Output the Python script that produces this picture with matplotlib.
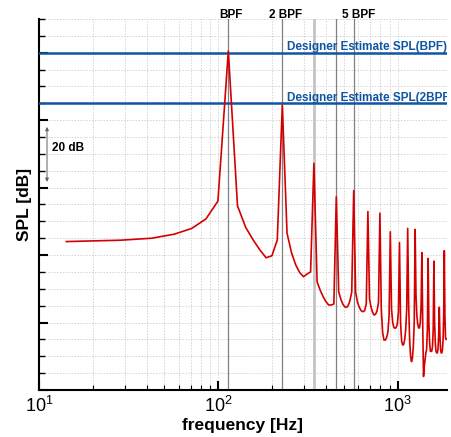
import numpy as np
import matplotlib
matplotlib.use("Agg")
import matplotlib.pyplot as plt
from matplotlib.ticker import MultipleLocator, LogLocator, NullFormatter

plt.rcParams['font.family'] = ['Liberation Sans', 'DejaVu Sans']
plt.rcParams['mathtext.fontset'] = 'custom'
plt.rcParams['mathtext.rm'] = 'Liberation Sans'
plt.rcParams['mathtext.it'] = 'Liberation Sans:italic'
plt.rcParams['mathtext.bf'] = 'Liberation Sans:bold'

# spectrum: bins at k * df, blade passing frequency = 8 bins
df_hz = 14.2
bpf = 8 * df_hz
bins = np.arange(1, 133)
spl = [44.0, 44.4, 45.0, 46.2, 47.9, 50.7, 56.0, 100.5,
       54.6, 48.2, 44.5, 41.5, 39.2, 39.8, 44.5, 84.5,
       46.5, 40.7, 37.1, 34.8, 33.6, 34.4, 35.0, 67.2,
       32.1, 29.6, 27.7, 26.2, 25.2, 25.2, 25.5, 57.3,
       29.1, 26.7, 25.2, 24.5, 24.7, 26.2, 29.0, 59.1,
       29.0, 26.0, 24.5, 23.5, 23.2, 23.5, 25.5, 52.9,
       27.0, 24.5, 23.0, 22.2, 22.5, 23.5, 26.0, 52.4,
       24.0, 17.0, 14.8, 14.8, 15.5, 17.0, 22.0, 46.9,
       24.0, 20.0, 18.5, 18.3, 18.5, 19.5, 23.0, 43.7,
       20.0, 14.5, 13.3, 13.5, 15.0, 18.0, 24.0, 47.9,
       25.0, 15.0, 10.0, 8.4, 9.5, 13.0, 20.0, 47.6,
       28.0, 22.0, 19.5, 18.4, 18.4, 20.0, 25.0, 40.7,
       20.0, 4.0, 7.0, 9.0, 11.0, 12.0, 18.0, 39.0,
       20.0, 14.0, 11.5, 11.4, 11.5, 13.0, 18.0, 38.2,
       20.0, 14.0, 11.5, 11.0, 11.0, 12.0, 16.0, 24.5,
       16.0, 12.0, 11.0, 11.0, 12.0, 15.0, 22.0, 41.3,
       22.0, 15.5, 15.0, 15.0]
freq = bins * df_hz

est_bpf = 100
est_2bpf = 85
harmonics = [1, 2, 3, 4, 5]
harm_labels = {1: "BPF", 2: "2 BPF", 5: "5 BPF"}

blue = "#0f55a3"
red = "#d40000"

fig = plt.figure(figsize=(4.51, 4.37), dpi=100)
ax = fig.add_axes([0.0865, 0.1076, 0.9045, 0.849])

ax.set_xscale('log')
ax.set_xlim(10, 1880)
ax.set_ylim(0, 110)

ax.yaxis.set_major_locator(MultipleLocator(20))
ax.yaxis.set_minor_locator(MultipleLocator(5))
ax.yaxis.set_major_formatter(NullFormatter())
ax.xaxis.set_major_locator(LogLocator(base=10))
ax.xaxis.set_minor_locator(LogLocator(base=10, subs=np.arange(2, 10)))
ax.xaxis.set_minor_formatter(NullFormatter())

ax.grid(True, which='both', color='#d4d4d4', linestyle=(0, (1.5, 1.5)), lw=0.7)
ax.set_axisbelow(True)

for s in ['top', 'right']:
    ax.spines[s].set_visible(False)
for s in ['left', 'bottom']:
    ax.spines[s].set_linewidth(1.5)

ax.tick_params(which='major', direction='in', length=6.5, width=1.5, labelsize=13, pad=4)
ax.tick_params(which='minor', direction='in', length=3.5, width=0.8)
ax.tick_params(axis='y', which='minor', length=4.5, width=1.0)

# harmonic reference lines
for h in harmonics:
    if h == 3:
        ax.axvline(h * bpf, color='#c4c4c4', lw=2.0, zorder=2)
    else:
        ax.axvline(h * bpf, color='#808080', lw=0.9, zorder=2)

offs = {1: 2.5, 2: 3, 5: 5}
for h, lab in harm_labels.items():
    ax.annotate(lab, xy=(h * bpf, 1), xycoords=('data', 'axes fraction'),
                xytext=(offs[h] / 1.389, 1), textcoords='offset points',
                ha='center', va='baseline', fontsize=8.5, fontweight='bold')

# designer estimates
ax.axhline(est_bpf, color=blue, lw=1.8, zorder=3)
ax.axhline(est_2bpf, color=blue, lw=1.8, zorder=3)
x_txt = 240.8
ax.text(x_txt, est_bpf + 0.7, "Designer Estimate SPL(BPF)", color=blue, fontsize=8.5,
        fontweight='bold', ha='left', va='baseline', clip_on=True)
ax.text(x_txt, est_2bpf + 0.7, "Designer Estimate SPL(2BPF)", color=blue, fontsize=8.5,
        fontweight='bold', ha='left', va='baseline', clip_on=True)

ax.plot(freq, spl, color=red, lw=1.2, zorder=4)

# 20 dB scale arrow
ax.annotate('', xy=(11.08, 78), xytext=(11.08, 61.7),
            arrowprops=dict(arrowstyle='<|-|>', color='#606060', lw=0.7,
                            mutation_scale=5, shrinkA=0, shrinkB=0))
ax.text(11.8, 71.8, "20 dB", fontsize=8.5, fontweight='bold', va='center', ha='left')

ax.set_xlabel("frequency [Hz]", fontsize=12.5, fontweight='bold', labelpad=2)
ax.set_ylabel("SPL [dB]", fontsize=12.5, fontweight='bold', labelpad=1)

fig.savefig("out.png", dpi=100)
